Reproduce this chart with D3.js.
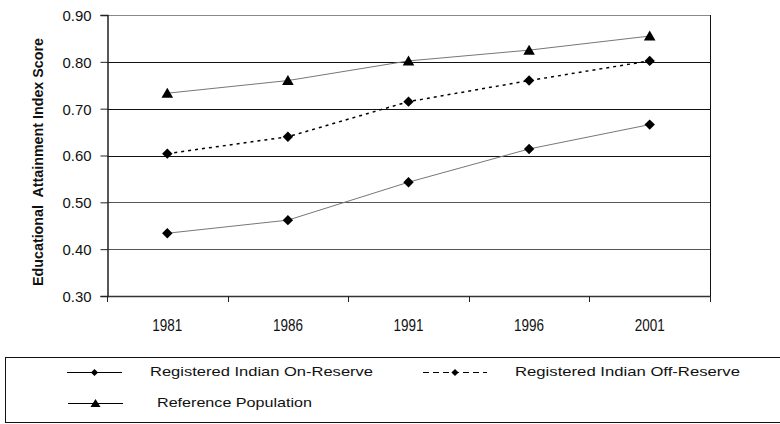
<!DOCTYPE html>
<html>
<head>
<meta charset="utf-8">
<script src="https://cdn.jsdelivr.net/npm/d3@7"></script>
<style>
  html, body { margin: 0; padding: 0; background: #fff; }
  svg { display: block; font-family: "Liberation Sans", Arial, sans-serif; }
</style>
</head>
<body>
<svg id="chart" width="780" height="424"></svg>
<script>
// Census years on the category axis
const years = ["1981", "1986", "1991", "1996", "2001"];
// Educational attainment index score by group
const onReserve = [0.434, 0.462, 0.543, 0.614, 0.666];
const offReserve = [0.604, 0.640, 0.715, 0.760, 0.802];
const referencePop = [0.733, 0.760, 0.802, 0.825, 0.855];
// Value axis ticks
const yTicks = [0.30, 0.40, 0.50, 0.60, 0.70, 0.80, 0.90];

const svg = d3.select("#chart");
const plotLeft = 107, plotRight = 710, plotTop = 15, plotBottom = 296;

const x = d3.scaleBand().domain(years).range([plotLeft, plotRight]);
const y = d3.scaleLinear().domain([0.30, 0.90]).range([plotBottom, plotTop]);
const cx = d => x(d) + x.bandwidth() / 2;

// Horizontal gridlines
const gridColor = v => (v >= 0.595 && v <= 0.805) ? "#111" : (v > 0.85 ? "#888" : "#555");
svg.append("g").selectAll("line")
  .data(yTicks.filter(v => v > 0.3))
  .join("line")
  .attr("x1", plotLeft).attr("x2", plotRight)
  .attr("y1", d => Math.round(y(d)) + 0.5).attr("y2", d => Math.round(y(d)) + 0.5)
  .attr("stroke", d => gridColor(d)).attr("stroke-width", 1);

// Right border of the plot
svg.append("line")
  .attr("x1", plotRight + 0.5).attr("x2", plotRight + 0.5)
  .attr("y1", y(0.9)).attr("y2", y(0.3))
  .attr("stroke", "#111").attr("stroke-width", 1);

// Y axis
const yAxis = d3.axisLeft(y).tickValues(yTicks).tickSize(7).tickFormat(d3.format(".2f"));
const gy = svg.append("g").attr("transform", `translate(${plotLeft + 0.5},0)`).call(yAxis);
gy.select(".domain").attr("stroke", "#222").attr("stroke-width", 1.5);
gy.selectAll(".tick line").attr("stroke", "#222");
gy.selectAll(".tick text")
  .attr("x", -16).attr("dy", "0.36em")
  .attr("font-size", 15).attr("fill", "#111")
  .attr("font-family", "'Liberation Sans', Arial, sans-serif")
  .attr("textLength", 29).attr("lengthAdjust", "spacingAndGlyphs");

// X axis: ticks sit at category boundaries
const xBounds = years.map(d => x(d)).concat([plotRight]);
const gx = svg.append("g");
gx.append("line")
  .attr("x1", plotLeft).attr("x2", plotRight)
  .attr("y1", plotBottom + 0.5).attr("y2", plotBottom + 0.5)
  .attr("stroke", "#333").attr("stroke-width", 1.5);
gx.selectAll("line.tk").data(xBounds).join("line")
  .attr("class", "tk")
  .attr("x1", d => Math.round(d) + 0.5).attr("x2", d => Math.round(d) + 0.5)
  .attr("y1", plotBottom).attr("y2", plotBottom + 6)
  .attr("stroke", "#222");
gx.selectAll("text").data(years).join("text")
  .attr("x", d => cx(d)).attr("y", 331)
  .attr("text-anchor", "middle")
  .attr("font-size", 16).attr("fill", "#111")
  .attr("textLength", 30).attr("lengthAdjust", "spacingAndGlyphs")
  .text(d => d);

// Y axis title
svg.append("text")
  .attr("transform", "translate(43,162) rotate(-90)")
  .attr("text-anchor", "middle")
  .attr("font-size", 15).attr("font-weight", "bold").attr("fill", "#111")
  .attr("textLength", 248).attr("lengthAdjust", "spacingAndGlyphs")
  .attr("xml:space", "preserve")
  .text("Educational  Attainment Index Score");

// Series lines
const line = d3.line().x((d, i) => cx(years[i])).y(d => y(d));

svg.append("path").datum(onReserve).attr("d", line)
  .attr("fill", "none").attr("stroke", "#777").attr("stroke-width", 1);
svg.append("path").datum(referencePop).attr("d", line)
  .attr("fill", "none").attr("stroke", "#777").attr("stroke-width", 1);
svg.append("path").datum(offReserve).attr("d", line)
  .attr("fill", "none").attr("stroke", "#000").attr("stroke-width", 1.5)
  .attr("stroke-dasharray", "3,4");

// Markers
function diamondPath(s) {
  return `M0,${-s}L${s},0L0,${s}L${-s},0Z`;
}
[onReserve, offReserve].forEach(series => {
  svg.append("g").selectAll("path").data(series).join("path")
    .attr("transform", (d, i) => `translate(${cx(years[i])},${y(d)})`)
    .attr("d", diamondPath(5.2))
    .attr("fill", "#000");
});
svg.append("g").selectAll("path").data(referencePop).join("path")
  .attr("transform", (d, i) => `translate(${cx(years[i])},${y(d)})`)
  .attr("d", "M0,-5.5L5.8,4.5L-5.8,4.5Z")
  .attr("fill", "#000");

// Legend
const legend = svg.append("g");
legend.append("rect")
  .attr("x", 5.5).attr("y", 357.5).attr("width", 800).attr("height", 65)
  .attr("fill", "none").attr("stroke", "#111").attr("stroke-width", 1);

const legendItems = [
  { label: "Registered Indian On-Reserve", x0: 67, x1: 122, y: 372, dash: null, mark: "diamond", tx: 150, tl: 223 },
  { label: "Registered Indian Off-Reserve", x0: 423, x1: 487, y: 372, dash: "6,4", mark: "diamond", tx: 515, tl: 225 },
  { label: "Reference Population", x0: 68, x1: 123, y: 403, dash: null, mark: "triangle", tx: 157, tl: 155 }
];
legendItems.forEach(it => {
  legend.append("line")
    .attr("x1", it.x0).attr("x2", it.x1).attr("y1", it.y + 0.5).attr("y2", it.y + 0.5)
    .attr("stroke", "#000").attr("stroke-width", 1)
    .attr("stroke-dasharray", it.dash);
  const mx = (it.x0 + it.x1) / 2;
  legend.append("path")
    .attr("transform", `translate(${mx},${it.y + 0.5})`)
    .attr("d", it.mark === "diamond" ? diamondPath(3.6) : "M0,-4.5L5,3.5L-5,3.5Z")
    .attr("fill", "#000");
  legend.append("text")
    .attr("x", it.tx).attr("y", it.y + 4)
    .attr("font-size", 13).attr("fill", "#111")
    .attr("textLength", it.tl).attr("lengthAdjust", "spacingAndGlyphs")
    .text(it.label);
});
</script>
</body>
</html>
